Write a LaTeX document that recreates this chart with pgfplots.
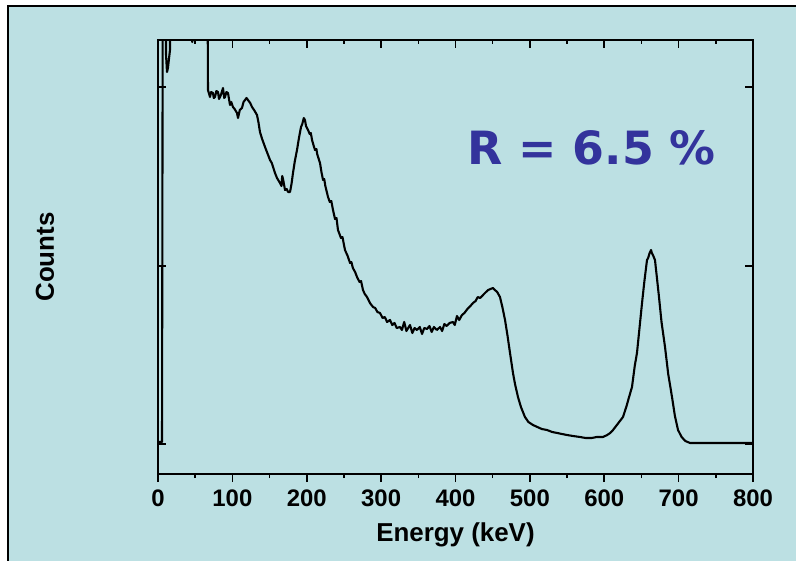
\documentclass[border=0pt]{standalone}
\usepackage{pgfplots}
\pgfplotsset{compat=1.18}
\usepackage{fontspec}
\setmainfont{Liberation Sans}
\newfontfamily\rfont{DejaVu Sans}
\definecolor{bgteal}{RGB}{188,224,227}
\definecolor{rblue}{RGB}{51,51,156}
\pgfplotstableread{
E y
0 2
5.4 2
6.7 600
9.4 600
10.8 389
12.1 372
13.4 376
16.1 394
17.5 600
44.5 600
46 402
47.5 600
65.9 600
67.2 354
69.9 347
71.5 352
73.9 351
75 346
76.6 347
78.5 353
80.7 352
82 345
83.4 347
85 350
87.4 356
89 346
90.1 347
92 352
94.1 351
96.8 339
98.5 342
100.8 337
103 335
106.2 331
107.6 326
110 334
112.9 336
115 342
117.0 344
119 346
121.0 344
124 341
126.4 337
130 333
133.1 329
135 322
137.1 312
140 305
143.9 297
147 291
150.6 284
153 281
157.3 271
160 266
164.0 261
166 258
167 268
168.1 265
170.8 254
173 255
175 252
177.5 252
179.5 260
181.5 271
184 283
186.9 294
189.5 306
192.3 317
194 320
196 326
197.6 324
199 318
201.7 314
204 310
205.5 311
207.1 304
209 299
211.1 294
213 295
214 290
217.8 281
220 271
221.9 264
223.5 265
225 258
228.6 247
231 242
233 243
235.3 234
238 225
240 226
242.0 214
246 206
248 207
251.4 194
255 188
258.2 181
260 182
262 176
265 172
267.6 167
271 162
273 163
275.6 154
278 150
281.0 147
285 141
289.1 137
292 136
295 132
298.5 131
302 126
305 127
308 122
311.9 124
315 119
318 121
321 116
325.4 117
328 114
331 122
334 113
338.8 119
342 111
345 116
348.2 114
352 117
355 110
358 116
361.7 115
365 118
368 112
371 117
375 114
379.2 117
382 113
385 120
388 118
392 121
396.6 122
399 119
402 128
405 124
408.7 129
412 131
416 135
420 138
423.5 141
427 143
430 147
433 146
437.0 149
441 152
444 154
447 155
450.4 156
453 154
456 152
459.8 147
463 137
466.6 124
470 108
473.3 91
477.3 71
480 60
484.0 47
488 37
493.4 27
498 22
504.2 19
510 17
516 15
523.0 14
530 12
537 11
543 10
549.9 9
558 8
567.4 7
575 6
583 6
590 7
598.3 7
604 9
608 11
611.8 14
618 20
625.2 27
630 38
633 46
637.3 57
641 78
644.0 91
647 113
650.8 141
654 163
657.5 184
659 186
661 191
662.9 194
664 191
666 188
668.2 184
671 165
673.6 147
677 122
681.7 97
686 70
691.1 47
695 28
699.2 14
704 7
709 3
715.3 1
732.8 1
800 1
}\spectrum
\begin{document}
\begin{tikzpicture}
\useasboundingbox (0,0) rectangle (796bp,561bp);
\fill[white] (0,0) rectangle (796bp,561bp);
\filldraw[fill=bgteal, draw=black, line width=2bp] (7.7bp,-10bp) rectangle (810bp,555.3bp);
\begin{axis}[
  at={(158bp,87bp)}, anchor=south west,
  scale only axis, width=595bp, height=434bp,
  xmin=0, xmax=800, ymin=-30, ymax=404,
  axis line style={line width=2bp},
  xtick={0,100,...,800}, minor x tick num=1,
  xtick pos=bottom, tick align=outside,
  major tick length=8bp, minor tick length=4bp,
  every tick/.style={line width=1.6bp, black},
  ytick=\empty,
  /pgf/number format/assume math mode=true,
  ticklabel style={font=\bfseries\fontsize{24}{24}\selectfont},
  xticklabel style={yshift=-4bp},
  xlabel={Energy (keV)}, ylabel={Counts},
  label style={font=\bfseries\fontsize{26}{26}\selectfont},
  xlabel style={at={(axis description cs:0.5,-0.1406)}, anchor=center},
  ylabel style={at={(axis description cs:-0.19,0.5)}, anchor=center},
  clip=true,
]
\addplot[black, line width=2.1bp, line join=round] table[x=E, y=y] {\spectrum};
\end{axis}
\begin{axis}[
  at={(158bp,87bp)}, anchor=south west,
  scale only axis, width=595bp, height=434bp,
  xmin=0, xmax=800, ymin=-30, ymax=404,
  axis line style={draw=none},
  xtick={0,100,...,800}, minor x tick num=1,
  xtick pos=top, ytick pos=both, tick align=inside,
  ytick={0,178,357},
  major tick length=8bp, minor tick length=4bp,
  every tick/.style={line width=1.6bp, black},
  xticklabels={}, yticklabels={},
]
\end{axis}
\node[anchor=base, text=rblue, font=\rfont\bfseries\fontsize{46}{46}\selectfont] at (591.5bp,396bp) {R = 6.5 \%};
\end{tikzpicture}
\end{document}
